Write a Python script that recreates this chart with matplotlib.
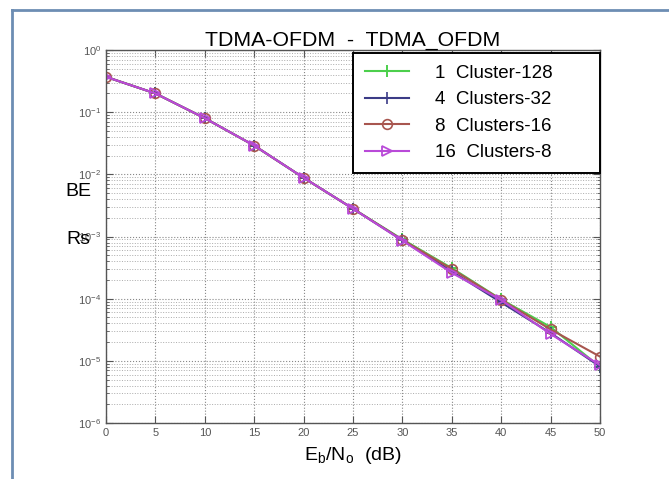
import matplotlib
matplotlib.use("Agg")
import matplotlib.pyplot as plt
from matplotlib.lines import Line2D
from matplotlib.ticker import LogLocator, NullFormatter

plt.rcParams["font.family"] = ["Liberation Sans", "DejaVu Sans"]

ebno = [0, 5, 10, 15, 20, 25, 30, 35, 40, 45, 50]
ber_1x128 = [0.37, 0.20, 0.080, 0.029, 0.0088, 0.0028, 9.0e-4, 3.1e-4, 9.7e-5, 3.5e-5, 8.0e-6]
ber_4x32 = [0.37, 0.20, 0.080, 0.029, 0.0088, 0.0028, 8.7e-4, 2.75e-4, 8.7e-5, 2.8e-5, 8.1e-6]
ber_8x16 = [0.37, 0.20, 0.080, 0.029, 0.0088, 0.0028, 8.8e-4, 3.0e-4, 9.6e-5, 3.2e-5, 1.17e-5]
ber_16x8 = [0.37, 0.20, 0.080, 0.029, 0.0088, 0.0028, 8.6e-4, 2.6e-4, 9.5e-5, 2.7e-5, 8.5e-6]

labels = ["1  Cluster-128", "4  Clusters-32", "8  Clusters-16", "16  Clusters-8"]
title = "TDMA-OFDM  -  TDMA_OFDM"

fig = plt.figure(figsize=(6.69, 4.79), dpi=100)
ax = fig.add_axes([106 / 669, 1 - 423 / 479, 494 / 669, 373 / 479])

ax.semilogy(ebno, ber_1x128, color="#4ccf4c", lw=1.5, marker="+", ms=8, mew=1.4, label=labels[0])
ax.semilogy(ebno, ber_4x32, color="#3b3b86", lw=1.5, marker="+", ms=8, mew=1.2, label=labels[1])
ax.semilogy(ebno, ber_8x16, color="#a8564f", lw=1.5, marker="o", ms=7, mfc="none", mew=1.2, label=labels[2])
ax.semilogy(ebno, ber_16x8, color="#b94ad8", lw=1.5, marker=">", ms=7, mfc="none", mew=1.3, label=labels[3])

ax.set_xlim(0, 50)
ax.set_ylim(1e-6, 1)
ax.set_xticks(range(0, 51, 5))
ax.yaxis.set_major_locator(LogLocator(base=10, numticks=10))
ax.yaxis.set_minor_locator(LogLocator(base=10, subs=range(2, 10), numticks=20))
ax.yaxis.set_minor_formatter(NullFormatter())
ax.tick_params(which="both", direction="in", top=True, right=True, colors="#555555",
               labelsize=8, labelcolor="#555555")
ax.tick_params(which="major", length=5)
ax.tick_params(which="minor", length=2.5)
ax.grid(True, which="major", linestyle=":", color="#888888", lw=0.8)
ax.grid(True, which="minor", axis="y", linestyle=":", color="#aaaaaa", lw=0.7)
for s in ax.spines.values():
    s.set_color("#555555")
    s.set_linewidth(1.0)

ax.set_title(title, fontsize=15.3, pad=1)
ax.set_xlabel(r"E$_\mathregular{b}$/N$_\mathregular{o}$  (dB)", fontsize=14, labelpad=5)
fig.text(65 / 669, 1 - 192 / 479, "BE", fontsize=14, va="center", ha="left")
fig.text(66 / 669, 1 - 239 / 479, "Rs", fontsize=14, va="center", ha="left")

leg = ax.legend(loc="upper left", bbox_to_anchor=(353 / 669, 0.62, 247 / 669, 1 - 53 / 479 - 0.62),
                bbox_transform=fig.transFigure, mode="expand", fontsize=13.5, fancybox=False,
                framealpha=1, edgecolor="black", borderpad=0.62, labelspacing=0.5,
                handlelength=2.35, handletextpad=1.4, borderaxespad=0)
leg.get_frame().set_linewidth(1.4)

# outer frame of the source page (top and left edges only)
fig.add_artist(Line2D([12 / 669, 1], [1 - 9.5 / 479] * 2, color="#6d8db3", lw=2))
fig.add_artist(Line2D([12 / 669] * 2, [0, 1 - 9.5 / 479], color="#6d8db3", lw=2))

fig.savefig("out.png", dpi=100)
